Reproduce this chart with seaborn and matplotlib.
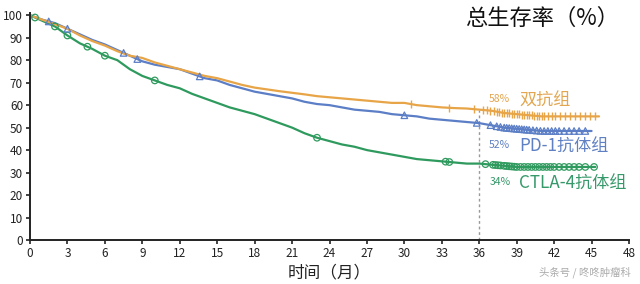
import numpy as np
import pandas as pd
import matplotlib
matplotlib.use("Agg")
import matplotlib.pyplot as plt
import seaborn as sns

# ---- data ----
months = [0, 1, 2, 3, 4, 5, 6, 7, 8, 9, 10, 11, 12, 13, 14, 15, 16, 17, 18, 19, 20,
          21, 22, 23, 24, 25, 26, 27, 28, 29, 30, 31, 32, 33, 34, 35, 36, 37, 38, 39,
          40, 41, 42, 43, 44, 45]
combo = [100, 98, 96, 94, 91, 88.5, 86.5, 84, 82, 81, 79, 77.5, 76, 74.5, 73, 72, 70.5,
         69, 67.8, 67, 66.2, 65.5, 64.8, 64, 63.5, 63, 62.5, 62, 61.5, 61, 61, 60, 59.5,
         59, 58.7, 58.5, 58, 57.5, 56.5, 56, 55.5, 55, 55, 55, 55, 55]
pd1 = [100, 98, 96.5, 94, 91.5, 89, 87, 84.5, 82, 79.5, 78, 77, 76, 74, 72, 71, 69,
       67.5, 66, 65, 64, 63, 61.5, 60.5, 60, 59, 58, 57.5, 57, 56, 55.5, 55, 54, 53.5,
       53, 52.5, 52, 51, 50, 49.5, 49, 48.5, 48.5, 48.5, 48.5, 48.5]
ctla4 = [100, 97.5, 95, 91, 87.5, 85, 82, 80, 76, 73, 71, 69, 67.5, 65, 63, 61, 59,
         57.5, 56, 54, 52, 50, 47.5, 45.5, 44, 42.5, 41.5, 40, 39, 38, 37, 36, 35.5, 35,
         34.5, 34, 34, 33.5, 33, 32.5, 32.5, 32.5, 32.5, 32.5, 32.5, 32.5]
end_time = {"combo": 45.6, "pd1": 44.7, "ctla4": 45.3}

combo_cens = [30.5, 33.6, 35.6, 36.3, 36.6, 36.9, 37.2, 37.4, 37.6, 37.8, 38.0, 38.2,
              38.4, 38.6, 38.8, 39.0, 39.2, 39.4, 39.6, 39.8, 40.0, 40.2, 40.4, 40.6,
              40.8, 41.0, 41.2, 41.5, 41.8, 42.1, 42.5, 42.9, 43.3, 43.7, 44.1, 44.5,
              44.9, 45.3]
pd1_cens = [1.5, 3.0, 7.5, 8.6, 13.6, 30.0, 35.8, 36.9, 37.4, 37.7, 38.0, 38.2, 38.4,
            38.6, 38.8, 39.0, 39.2, 39.4, 39.6, 39.8, 40.0, 40.3, 40.6, 40.9, 41.2,
            41.5, 41.8, 42.1, 42.4, 42.8, 43.2, 43.6, 44.0, 44.5]
ctla4_cens = [0.4, 2.0, 3.0, 4.6, 6.0, 10.0, 23.0, 33.3, 33.6, 36.5, 37.1, 37.3, 37.5,
              37.7, 38.0, 38.2, 38.4, 38.6, 38.8, 39.0, 39.3, 39.6, 39.9, 40.2, 40.5,
              40.8, 41.1, 41.4, 41.7, 42.0, 42.4, 42.8, 43.2, 43.6, 44.0, 44.5, 45.2]

labels = {"combo": ("58%", "双抗组"), "pd1": ("52%", "PD-1抗体组"),
          "ctla4": ("34%", "CTLA-4抗体组")}
x_ticks = [0, 3, 6, 9, 12, 15, 18, 21, 24, 27, 30, 33, 36, 39, 42, 45, 48]
y_ticks = [0, 10, 20, 30, 40, 50, 60, 70, 80, 90, 100]

# ---- styling ----
colors = {"combo": "#E8A548", "pd1": "#5B7EC6", "ctla4": "#2F9A5E"}
text_colors = {"combo": "#E3A650", "pd1": "#5F80C2", "ctla4": "#36996A"}
markers = {"combo": "+", "pd1": "^", "ctla4": "o"}

series = {"combo": combo, "pd1": pd1, "ctla4": ctla4}
cens = {"combo": combo_cens, "pd1": pd1_cens, "ctla4": ctla4_cens}

rows = []
for key, vals in series.items():
    t = list(months) + [end_time[key]]
    v = list(vals) + [vals[-1]]
    for a, b in zip(t, v):
        rows.append({"time": a, "surv": b, "group": key})
df = pd.DataFrame(rows)

sns.set_style("ticks")
plt.rcParams["font.family"] = ["Noto Sans CJK SC", "DejaVu Sans"]

fig = plt.figure(figsize=(6.4, 2.84), dpi=100)
ax = fig.add_axes([30 / 640, 44 / 284, 599 / 640, 227 / 284])

sns.lineplot(data=df, x="time", y="surv", hue="group", palette=colors,
             linewidth=1.6, legend=False, ax=ax,
             hue_order=["ctla4", "pd1", "combo"])


def curve_value(t, key):
    return np.interp(t, months, series[key])


for key in ["ctla4", "pd1", "combo"]:
    ts = np.array(cens[key])
    ys = curve_value(ts, key)
    if markers[key] == "+":
        ax.scatter(ts, ys, marker="|", s=30, color=colors[key], linewidths=1.0, zorder=3)
    else:
        ax.scatter(ts, ys, marker=markers[key], s=22, facecolors="none",
                   edgecolors=colors[key], linewidths=0.9, zorder=3)

# dashed vertical line at 36 months
ax.plot([36, 36], [0, curve_value(36, "combo")], linestyle=(0, (2, 2)),
        color="#999999", linewidth=1.0, zorder=1)

# group labels
pos = {"combo": 62.0, "pd1": 41.5, "ctla4": 25.0}
for key, (pct, name) in labels.items():
    ax.text(36.8, pos[key] + 0.8, pct, color=text_colors[key], fontsize=7.5,
            va="center", ha="left")
    ax.text(39.2, pos[key], name, color=text_colors[key], fontsize=12.3,
            va="center", ha="left")

ax.set_xlim(0, 48)
ax.set_ylim(0, 101)
ax.set_xticks(x_ticks)
ax.set_yticks(y_ticks)
ax.tick_params(axis="both", labelsize=8.5, length=3, width=1.2, colors="#222222",
               pad=2)
for s in ["left", "bottom"]:
    ax.spines[s].set_linewidth(1.4)
    ax.spines[s].set_color("#222222")
sns.despine(ax=ax)
ax.set_xlabel("时间（月）", fontsize=12, color="#222222", labelpad=3)
ax.set_ylabel("")

fig.text(0.968, 0.935, "总生存率（%）", fontsize=16, ha="right", va="center",
         color="#111111")
fig.text(0.985, 0.04, "头条号 / 咚咚肿瘤科", fontsize=7.5, ha="right", va="center",
         color="#AAAAAA")

fig.savefig("out.png", dpi=100)
